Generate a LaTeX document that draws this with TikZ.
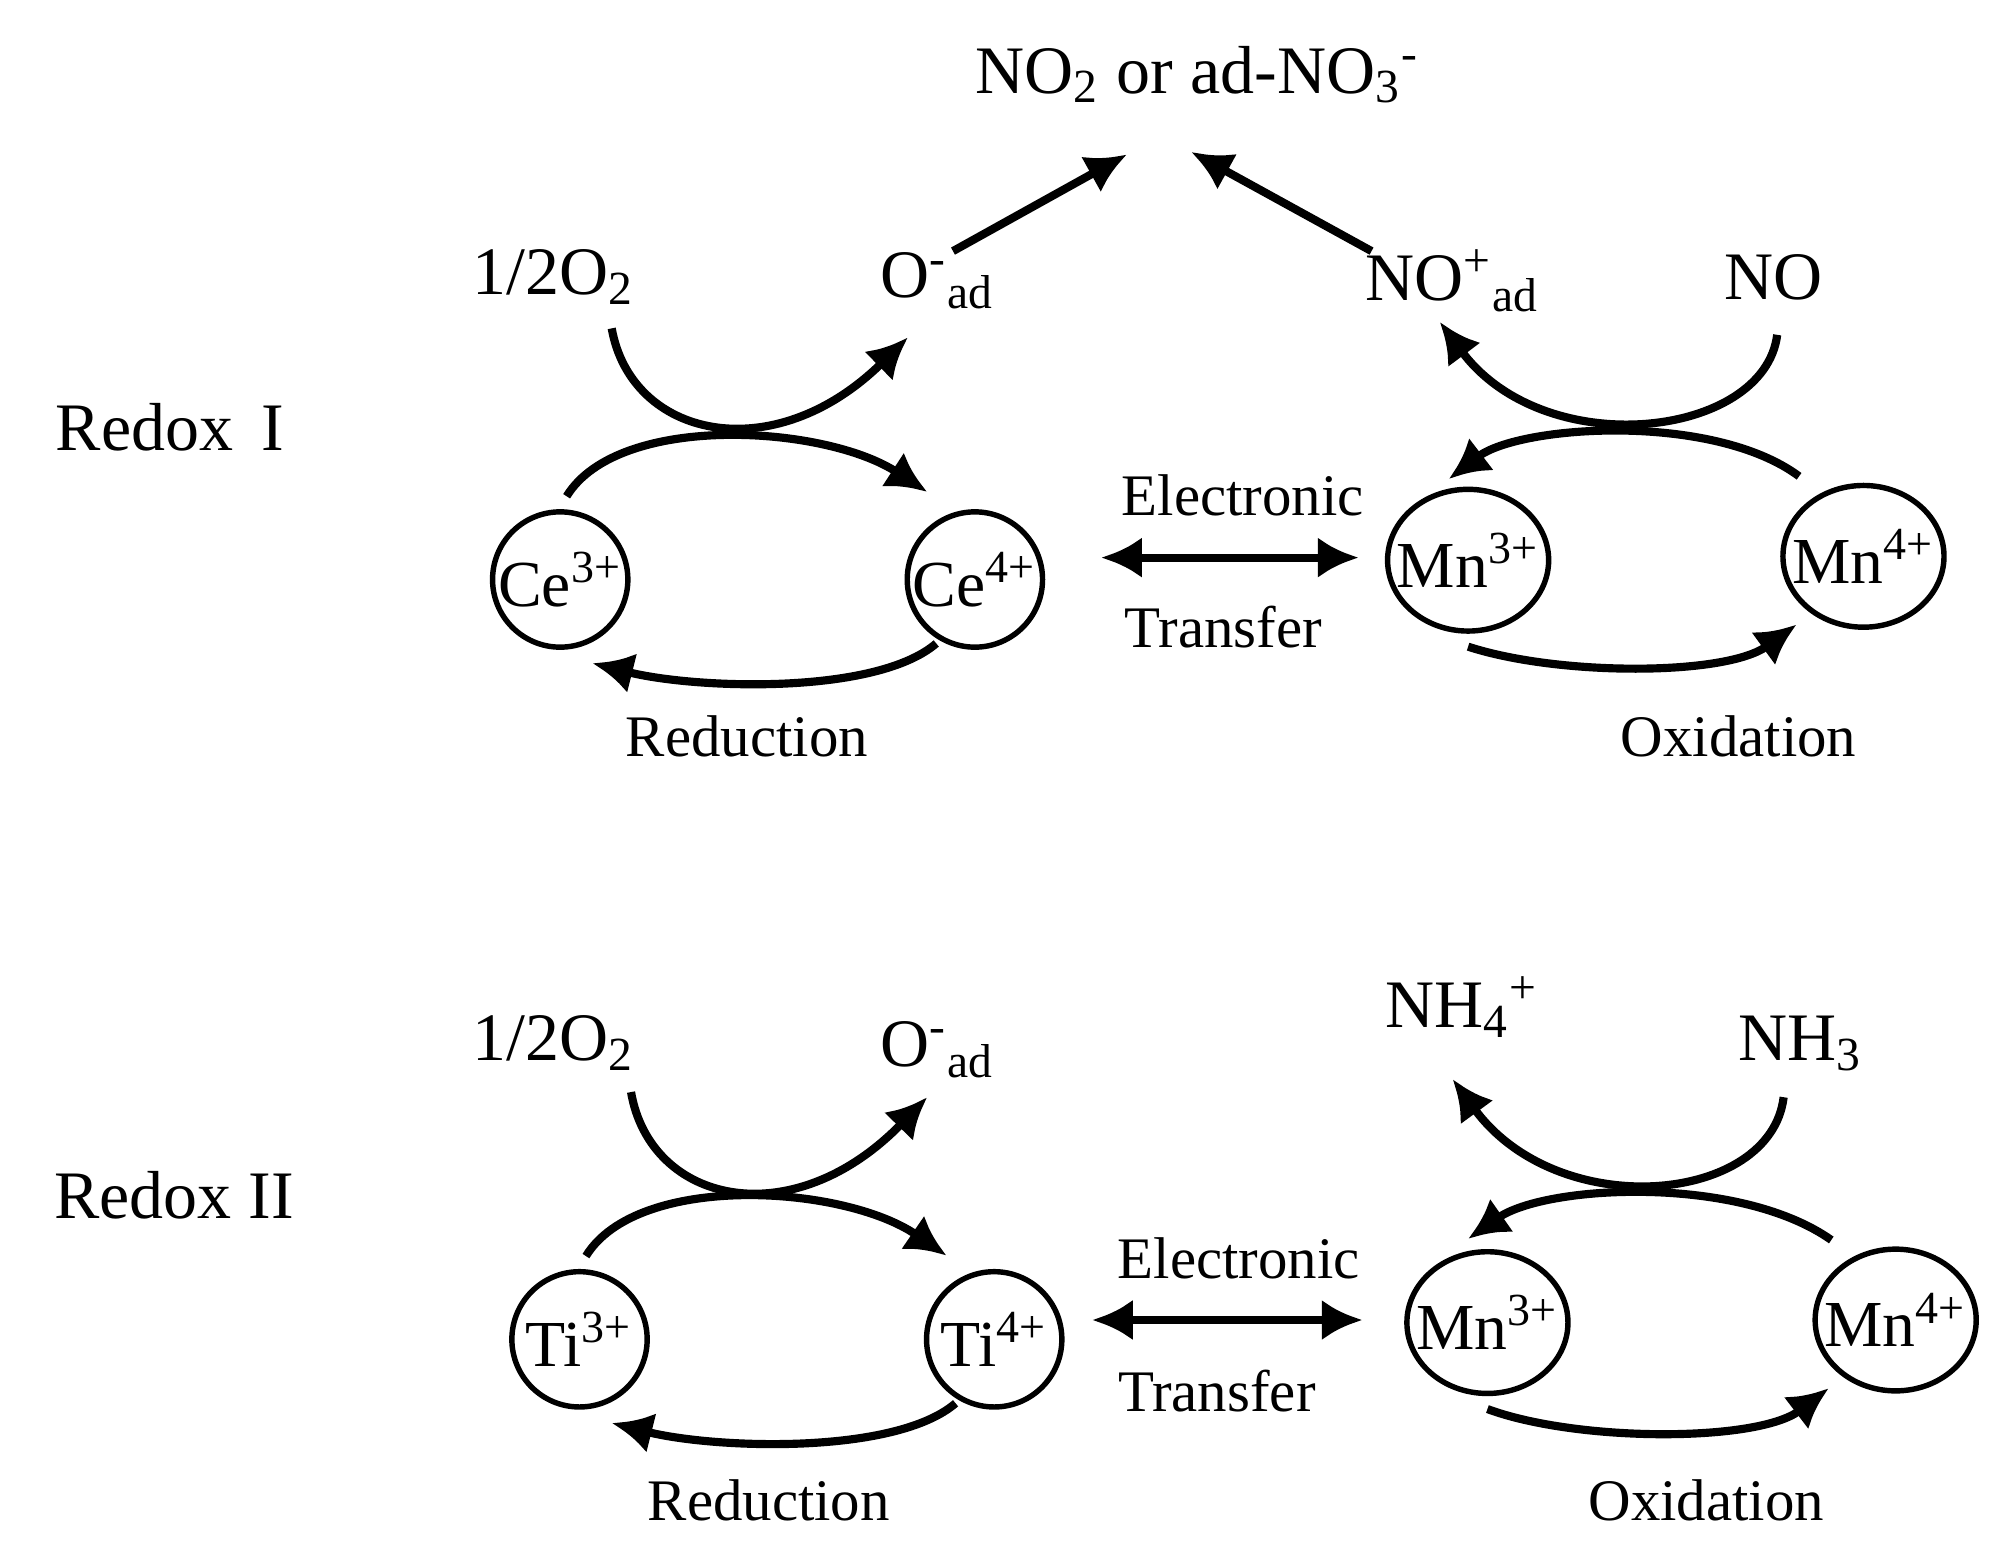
\documentclass[tikz,border=0pt]{standalone}
\usepackage{fontspec}
\setmainfont{Liberation Serif}
\usetikzlibrary{arrows.meta,shapes.geometric}
\begin{document}
\begin{tikzpicture}[x=0.01cm,y=-0.01cm,
  t/.style={font=\fontsize{13}{15}\selectfont,inner sep=0pt},
  big/.style={font=\fontsize{15}{17}\selectfont,inner sep=0pt},
  ion/.style={draw,line width=1.2pt,circle,minimum size=1.05cm,inner sep=-3pt,font=\fontsize{14.5}{17}\selectfont},
  mn/.style={draw,line width=1.2pt,ellipse,minimum width=1.25cm,minimum height=1.1cm,inner xsep=-5pt,inner ysep=0pt,font=\fontsize{14.5}{17}\selectfont},
  ar/.style={line width=1.8pt,-{Latex[length=9pt,width=9pt]}},
  ln/.style={line width=1.8pt}]
\useasboundingbox (0,0) rectangle (1560,1213);
% ---------- Redox I ----------
\node[big] (top) at (930,58) {NO\textsubscript{2} or ad-NO\textsubscript{3}\textsuperscript{-}};
\node[big] (o2a) at (430,215) {1/2O\textsubscript{2}};
\node[big] (oada) at (728,218) {O\textsuperscript{-}\textsubscript{ad}};
\node[big] (noad) at (1128,218) {NO\textsuperscript{+}\textsubscript{ad}};
\node[big] (no) at (1377,215) {NO};
\node[big] (r1) at (132,332) {Redox\, I};
\node[ion] (ce3) at (435,450) {Ce\textsuperscript{3+}};
\node[ion] (ce4) at (757,450) {Ce\textsuperscript{4+}};
\node[mn] (mn3a) at (1140,435) {Mn\textsuperscript{3+}};
\node[mn] (mn4a) at (1447,432) {Mn\textsuperscript{4+}};
\node[t] (el1) at (965,385) {Electronic};
\node[t] (tr1) at (950,487) {Transfer};
\node[t] (red1) at (580,572) {Reduction};
\node[t] (ox1) at (1350,572) {Oxidation};
\coordinate (a1) at (740,195); \coordinate (a2) at (875,120);
\coordinate (b1) at (1065,195); \coordinate (b2) at (925,118);
\draw[ar] (a1) -- (a2);
\draw[ar] (b1) -- (b2);
\draw[ar] (ce3.north) ++(5,-10) .. controls (480,320) and (640,330) .. (720,382);
\draw[ar] (475,255) .. controls (490,340) and (600,365) .. (705,262);
\draw[ar] (ce4.south) ++(-30,-5) .. controls (680,540) and (540,535) .. (460,515);
\draw[ln,<->,>={Latex[length=9pt,width=9pt]}] (855,433) -- (1055,433);
\draw[ar] (1380,260) .. controls (1370,340) and (1200,360) .. (1118,250);
\draw[ar] (mn4a.north) ++(-50,-5) .. controls (1330,320) and (1180,330) .. (1125,372);
\draw[ar] (mn3a.south) ++(0,10) .. controls (1210,525) and (1340,525) .. (1395,485);
% ---------- Redox II ----------
\node[big] (o2b) at (430,810) {1/2O\textsubscript{2}};
\node[big] (oadb) at (728,815) {O\textsuperscript{-}\textsubscript{ad}};
\node[big] (nh4) at (1135,782) {NH\textsubscript{4}\textsuperscript{+}};
\node[big] (nh3) at (1398,810) {NH\textsubscript{3}};
\node[big] (r2) at (135,928) {Redox II};
\node[ion] (ti3) at (450,1040) {Ti\textsuperscript{3+}};
\node[ion] (ti4) at (772,1040) {Ti\textsuperscript{4+}};
\node[mn] (mn3b) at (1155,1027) {Mn\textsuperscript{3+}};
\node[mn] (mn4b) at (1472,1025) {Mn\textsuperscript{4+}};
\node[t] (el2) at (962,977) {Electronic};
\node[t] (tr2) at (945,1080) {Transfer};
\node[t] (red2) at (597,1165) {Reduction};
\node[t] (ox2) at (1325,1165) {Oxidation};
\draw[ar] (ti3.north) ++(5,-10) .. controls (495,910) and (655,920) .. (735,975);
\draw[ar] (490,848) .. controls (505,935) and (615,960) .. (720,852);
\draw[ar] (ti4.south) ++(-30,-5) .. controls (695,1130) and (555,1125) .. (475,1105);
\draw[ln,<->,>={Latex[length=9pt,width=9pt]}] (848,1025) -- (1058,1025);
\draw[ar] (1385,852) .. controls (1375,935) and (1210,950) .. (1128,838);
\draw[ar] (mn4b.north) ++(-50,-5) .. controls (1350,912) and (1200,920) .. (1140,962);
\draw[ar] (mn3b.south) ++(0,10) .. controls (1225,1120) and (1365,1120) .. (1420,1078);
\end{tikzpicture}
\end{document}
